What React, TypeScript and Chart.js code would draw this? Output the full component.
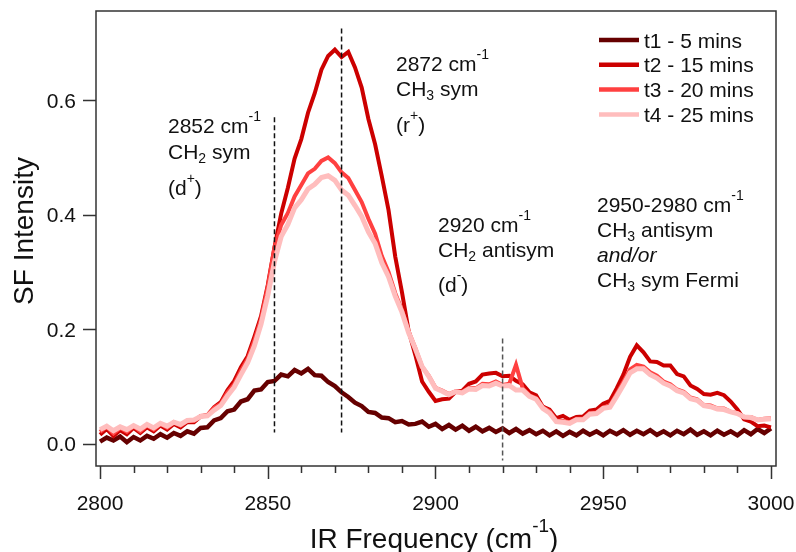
import React, { useEffect, useRef } from "react";
import { Chart, registerables } from "chart.js";
Chart.register(...registerables);

const freq = [
  2800, 2802, 2804, 2806, 2808, 2810, 2812, 2814, 2816, 2818, 2820, 2822, 2824, 2826, 2828, 2830, 2832, 2834, 2836, 2838,
  2840, 2842, 2844, 2846, 2848, 2850, 2852, 2854, 2856, 2858, 2860, 2862, 2864, 2866, 2868, 2870, 2872, 2874, 2876, 2878,
  2880, 2882, 2884, 2886, 2888, 2890, 2892, 2894, 2896, 2898, 2900, 2902, 2904, 2906, 2908, 2910, 2912, 2914, 2916, 2918,
  2920, 2922, 2924, 2926, 2928, 2930, 2932, 2934, 2936, 2938, 2940, 2942, 2944, 2946, 2948, 2950, 2952, 2954, 2956, 2958,
  2960, 2962, 2964, 2966, 2968, 2970, 2972, 2974, 2976, 2978, 2980, 2982, 2984, 2986, 2988, 2990, 2992, 2994, 2996, 2998,
  3000,
];

const t1 = [
  0.004, 0.011, 0.006, 0.013, 0.003, 0.012, 0.006, 0.014, 0.009, 0.017, 0.011, 0.019, 0.014, 0.022, 0.018, 0.028, 0.029, 0.041, 0.045, 0.057,
  0.060, 0.074, 0.078, 0.093, 0.095, 0.108, 0.110, 0.121, 0.118, 0.129, 0.123, 0.131, 0.120, 0.119, 0.108, 0.101, 0.090, 0.082, 0.072, 0.066,
  0.056, 0.054, 0.046, 0.045, 0.038, 0.040, 0.034, 0.035, 0.039, 0.030, 0.035, 0.026, 0.033, 0.025, 0.032, 0.023, 0.030, 0.022, 0.028, 0.021,
  0.027, 0.019, 0.026, 0.018, 0.024, 0.017, 0.023, 0.015, 0.022, 0.014, 0.021, 0.015, 0.023, 0.016, 0.022, 0.015, 0.023, 0.017, 0.024, 0.016,
  0.023, 0.017, 0.024, 0.016, 0.022, 0.015, 0.023, 0.017, 0.025, 0.016, 0.022, 0.015, 0.023, 0.016, 0.022, 0.015, 0.024, 0.017, 0.026, 0.019,
  0.027,
];

const t2 = [
  0.016, 0.026, 0.014, 0.024, 0.017, 0.028, 0.019, 0.029, 0.022, 0.032, 0.025, 0.035, 0.029, 0.038, 0.038, 0.048, 0.050, 0.064, 0.073, 0.094,
  0.110, 0.134, 0.153, 0.187, 0.223, 0.277, 0.343, 0.402, 0.447, 0.498, 0.532, 0.578, 0.612, 0.653, 0.677, 0.688, 0.675, 0.684, 0.657, 0.622,
  0.567, 0.523, 0.467, 0.408, 0.327, 0.265, 0.197, 0.155, 0.109, 0.091, 0.075, 0.078, 0.079, 0.091, 0.093, 0.105, 0.109, 0.121, 0.123, 0.124,
  0.118, 0.119, 0.110, 0.104, 0.090, 0.085, 0.065, 0.060, 0.045, 0.049, 0.042, 0.047, 0.048, 0.058, 0.060, 0.070, 0.075, 0.097, 0.121, 0.152,
  0.172, 0.160, 0.144, 0.143, 0.137, 0.137, 0.122, 0.118, 0.102, 0.096, 0.087, 0.086, 0.089, 0.085, 0.074, 0.060, 0.043, 0.039, 0.031, 0.032,
  0.029,
];

const t3 = [
  0.021, 0.030, 0.018, 0.028, 0.021, 0.031, 0.022, 0.032, 0.025, 0.035, 0.028, 0.038, 0.032, 0.040, 0.040, 0.049, 0.050, 0.063, 0.070, 0.090,
  0.104, 0.128, 0.148, 0.180, 0.218, 0.274, 0.343, 0.382, 0.403, 0.432, 0.452, 0.472, 0.480, 0.494, 0.500, 0.490, 0.474, 0.464, 0.443, 0.422,
  0.393, 0.367, 0.328, 0.300, 0.263, 0.234, 0.196, 0.167, 0.135, 0.119, 0.098, 0.093, 0.087, 0.092, 0.091, 0.098, 0.097, 0.105, 0.104, 0.109,
  0.103, 0.105, 0.138, 0.097, 0.085, 0.080, 0.064, 0.057, 0.041, 0.040, 0.038, 0.044, 0.044, 0.054, 0.055, 0.064, 0.067, 0.087, 0.108, 0.130,
  0.138, 0.135, 0.125, 0.119, 0.109, 0.104, 0.095, 0.091, 0.081, 0.078, 0.068, 0.067, 0.062, 0.062, 0.056, 0.054, 0.047, 0.047, 0.042, 0.044,
  0.045,
];

const t4 = [
  0.025, 0.031, 0.023, 0.030, 0.025, 0.032, 0.026, 0.034, 0.028, 0.036, 0.031, 0.038, 0.034, 0.041, 0.042, 0.048, 0.049, 0.059, 0.067, 0.084,
  0.099, 0.121, 0.142, 0.171, 0.209, 0.259, 0.318, 0.362, 0.383, 0.412, 0.426, 0.445, 0.453, 0.465, 0.468, 0.460, 0.443, 0.434, 0.416, 0.397,
  0.370, 0.350, 0.316, 0.292, 0.258, 0.230, 0.194, 0.166, 0.135, 0.118, 0.097, 0.092, 0.086, 0.091, 0.089, 0.096, 0.095, 0.102, 0.101, 0.106,
  0.101, 0.102, 0.094, 0.094, 0.083, 0.078, 0.062, 0.054, 0.039, 0.038, 0.036, 0.042, 0.042, 0.052, 0.053, 0.062, 0.064, 0.083, 0.103, 0.124,
  0.131, 0.131, 0.121, 0.115, 0.106, 0.101, 0.093, 0.089, 0.079, 0.076, 0.067, 0.065, 0.061, 0.060, 0.056, 0.053, 0.047, 0.046, 0.042, 0.043,
  0.044,
];

const seriesLabels = ["t1 - 5 mins", "t2 - 15 mins", "t3 - 20 mins", "t4 - 25 mins"];
const seriesColors = ["#660000", "#cc0000", "#ff4040", "#ffbdbd"];
const seriesWidths = [4.5, 4, 4, 5];

const xTicks = [2800, 2810, 2820, 2830, 2840, 2850, 2860, 2870, 2880, 2890, 2900, 2910, 2920, 2930, 2940, 2950, 2960, 2970, 2980, 2990, 3000];
const xMajorTicks = [2800, 2850, 2900, 2950, 3000];
const xTickLabels = ["2800", "2850", "2900", "2950", "3000"];
const yTicks = [0, 0.2, 0.4, 0.6];
const yTickLabels = ["0.0", "0.2", "0.4", "0.6"];

const markerFreqs = [2852, 2872, 2920];
const markerTops = [0.57, 0.725, 0.184];
const markerBottoms = [0.02, 0.02, -0.029];
const markerColors = ["#111111", "#111111", "#555555"];

const FONT = "'Liberation Sans', Arial, sans-serif";

type Run = { t: string; sup?: boolean; sub?: boolean; italic?: boolean };

function drawRuns(ctx: CanvasRenderingContext2D, runs: Run[], x: number, y: number, size: number) {
  let cx = x;
  for (const r of runs) {
    const small = r.sup || r.sub;
    const fs = small ? Math.round(size * 0.68) : size;
    ctx.font = `${r.italic ? "italic " : ""}${fs}px ${FONT}`;
    const dy = r.sup ? -size * 0.58 : r.sub ? size * 0.2 : 0;
    ctx.fillText(r.t, cx, y + dy);
    cx += ctx.measureText(r.t).width;
  }
  return cx - x;
}

function measureRuns(ctx: CanvasRenderingContext2D, runs: Run[], size: number) {
  let w = 0;
  for (const r of runs) {
    const small = r.sup || r.sub;
    const fs = small ? Math.round(size * 0.68) : size;
    ctx.font = `${r.italic ? "italic " : ""}${fs}px ${FONT}`;
    w += ctx.measureText(r.t).width;
  }
  return w;
}

const annotations: { x: number; y: number; runs: Run[] }[] = [
  { x: 168, y: 133, runs: [{ t: "2852 cm" }, { t: "-1", sup: true }] },
  { x: 168, y: 159, runs: [{ t: "CH" }, { t: "2", sub: true }, { t: " sym" }] },
  { x: 168, y: 195, runs: [{ t: "(d" }, { t: "+", sup: true }, { t: ")" }] },
  { x: 396, y: 71, runs: [{ t: "2872 cm" }, { t: "-1", sup: true }] },
  { x: 396, y: 96, runs: [{ t: "CH" }, { t: "3", sub: true }, { t: " sym" }] },
  { x: 396, y: 132, runs: [{ t: "(r" }, { t: "+", sup: true }, { t: ")" }] },
  { x: 438, y: 232, runs: [{ t: "2920 cm" }, { t: "-1", sup: true }] },
  { x: 438, y: 257, runs: [{ t: "CH" }, { t: "2", sub: true }, { t: " antisym" }] },
  { x: 438, y: 292, runs: [{ t: "(d" }, { t: "-", sup: true }, { t: ")" }] },
  { x: 597, y: 212, runs: [{ t: "2950-2980 cm" }, { t: "-1", sup: true }] },
  { x: 597, y: 237, runs: [{ t: "CH" }, { t: "3", sub: true }, { t: " antisym" }] },
  { x: 597, y: 262, runs: [{ t: "and/or", italic: true }] },
  { x: 597, y: 287, runs: [{ t: "CH" }, { t: "3", sub: true }, { t: " sym Fermi" }] },
];

const decorPlugin = {
  id: "decor",
  afterDraw(chart: any) {
    const ctx: CanvasRenderingContext2D = chart.ctx;
    const { left, right, top, bottom } = chart.chartArea;
    const xs = chart.scales.x;
    const ys = chart.scales.y;
    ctx.save();
    ctx.strokeStyle = "#333333";
    ctx.lineWidth = 1.5;
    ctx.strokeRect(left, top, right - left, bottom - top);
    ctx.beginPath();
    for (const v of xTicks) {
      const px = Math.round(xs.getPixelForValue(v)) + 0.5;
      const len = xMajorTicks.includes(v) ? 13 : 7;
      ctx.moveTo(px, bottom);
      ctx.lineTo(px, bottom + len);
    }
    for (const v of yTicks) {
      const py = Math.round(ys.getPixelForValue(v)) + 0.5;
      ctx.moveTo(left, py);
      ctx.lineTo(left - 13, py);
    }
    ctx.stroke();
    ctx.fillStyle = "#111111";
    ctx.font = `21px ${FONT}`;
    ctx.textAlign = "center";
    ctx.textBaseline = "alphabetic";
    xMajorTicks.forEach((v, i) => {
      ctx.fillText(xTickLabels[i], xs.getPixelForValue(v), 510);
    });
    ctx.textAlign = "right";
    yTicks.forEach((v, i) => {
      ctx.fillText(yTickLabels[i], 76, ys.getPixelForValue(v) + 7.5);
    });
    ctx.textAlign = "left";
    const xt: Run[] = [{ t: "IR Frequency (cm" }, { t: "-1", sup: true }, { t: ")" }];
    const w = measureRuns(ctx, xt, 28);
    drawRuns(ctx, xt, 434 - w / 2, 548, 28);
    ctx.save();
    ctx.translate(33, 231);
    ctx.rotate(-Math.PI / 2);
    ctx.font = `28px ${FONT}`;
    ctx.textAlign = "center";
    ctx.fillText("SF Intensity", 0, 0);
    ctx.restore();
    ctx.textAlign = "left";
    for (const a of annotations) drawRuns(ctx, a.runs, a.x, a.y, 21);
    seriesLabels.forEach((lab, i) => {
      const ly = 40 + i * 24.8;
      ctx.strokeStyle = seriesColors[i];
      ctx.lineWidth = 4.5;
      ctx.beginPath();
      ctx.moveTo(599, ly);
      ctx.lineTo(639, ly);
      ctx.stroke();
      ctx.fillStyle = "#111111";
      ctx.font = `21px ${FONT}`;
      ctx.fillText(lab, 644, ly + 7.5);
    });
    ctx.restore();
  },
};

export default function App() {
  const ref = useRef<HTMLCanvasElement | null>(null);
  useEffect(() => {
    if (!ref.current) return;
    const seriesData = [t1, t2, t3, t4];
    const lineSets = seriesData.map((s, i) => ({
      label: seriesLabels[i],
      data: s.map((v, k) => ({ x: freq[k], y: v })),
      borderColor: seriesColors[i],
      backgroundColor: seriesColors[i],
      borderWidth: seriesWidths[i],
      pointRadius: 0,
      tension: 0,
      fill: false,
      order: 10 - i,
    }));
    const markerSets = markerFreqs.map((f, i) => ({
      label: "marker" + i,
      data: [
        { x: f, y: markerTops[i] },
        { x: f, y: markerBottoms[i] },
      ],
      borderColor: markerColors[i],
      borderWidth: 1.5,
      borderDash: [5, 3],
      pointRadius: 0,
      fill: false,
      order: 0,
    }));
    const chart = new Chart(ref.current, {
      type: "line",
      data: { datasets: [...lineSets, ...markerSets] as any },
      options: {
        animation: false,
        responsive: false,
        devicePixelRatio: 1,
        layout: { padding: { left: 96, top: 11, right: 20, bottom: 86 } },
        plugins: { legend: { display: false }, tooltip: { enabled: false } },
        scales: {
          x: { type: "linear", display: false, min: 2798.8, max: 3001.5 },
          y: { type: "linear", display: false, min: -0.0385, max: 0.7555 },
        },
      },
      plugins: [decorPlugin],
    });
    return () => chart.destroy();
  }, []);
  return (
    <div style={{ position: "fixed", left: 0, top: 0, width: 796, height: 552, background: "#fff" }}>
      <canvas ref={ref} width={796} height={552} />
    </div>
  );
}
